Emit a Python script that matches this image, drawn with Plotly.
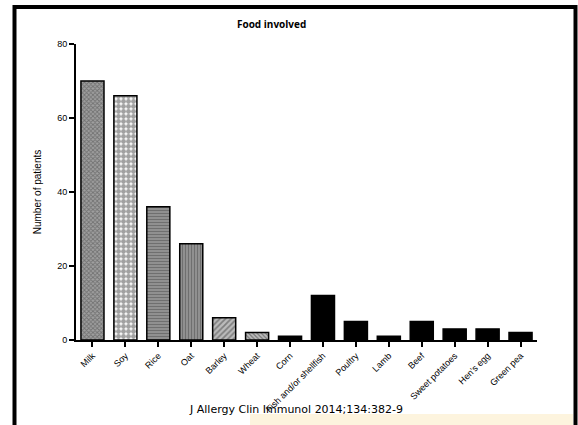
import plotly.graph_objects as go

categories = ["Milk", "Soy", "Rice", "Oat", "Barley", "Wheat", "Corn",
              "Fish and/or shellfish", "Poultry", "Lamb", "Beef",
              "Sweet potatoes", "Hen's egg", "Green pea"]
patients = [70, 66, 36, 26, 6, 2, 1, 12, 5, 1, 5, 3, 3, 2]
y_ticks = [0, 20, 40, 60, 80]

shapes_pat = ["x", ".", "-", "|", "/", "\\", "", "", "", "", "", "", "", ""]
fills = ["#a0a0a0", "white", "#9a9a9a", "#9a9a9a", "#bbbbbb", "#777777",
         "black", "black", "black", "black", "black", "black", "black", "black"]
sizes = [3, 5, 3, 3, 4, 3, 8, 8, 8, 8, 8, 8, 8, 8]
solid = [0.5, 0.75, 0.5, 0.5, 0.45, 0.6, 0.3, 0.3, 0.3, 0.3, 0.3, 0.3, 0.3, 0.3]

fig = go.Figure(go.Bar(
    x=list(range(len(categories))), y=patients, width=0.7,
    marker=dict(color=fills, line=dict(color="black", width=1.5),
                pattern=dict(shape=shapes_pat, fgcolor="black",
                             size=sizes, solidity=solid, fillmode="overlay")),
    hoverinfo="skip",
))

L, R, T, B = 76, 41, 44, 85
W, H = 578 - L - R, 425 - T - B
def px(x): return (x - L) / W
def py(y): return (425 - B - y) / H

fig.update_layout(
    width=578, height=425, margin=dict(l=L, r=R, t=T, b=B),
    paper_bgcolor="white", plot_bgcolor="white", showlegend=False,
    font=dict(family="Liberation Sans, Arial", color="black", size=9),
    xaxis=dict(tickmode="array", tickvals=list(range(len(categories))),
               ticktext=categories, tickangle=-45, range=[-0.5, 13.5],
               showline=True, linecolor="black", linewidth=2, ticks="outside",
               ticklen=5, tickwidth=1.5, tickcolor="black", showgrid=False,
               zeroline=False, tickfont=dict(size=9), automargin=False),
    yaxis=dict(range=[0, 80], tickvals=y_ticks, showline=True, linecolor="black",
               linewidth=2, ticks="outside", ticklen=5, tickwidth=1.5,
               tickcolor="black", showgrid=False, zeroline=False,
               title=dict(text="Number of patients", font=dict(size=10), standoff=14),
               tickfont=dict(size=9), automargin=False),
    shapes=[
        dict(type="rect", xref="paper", yref="paper", x0=px(14.5), x1=px(575.5),
             y0=py(445), y1=py(7), line=dict(color="black", width=4),
             fillcolor="rgba(0,0,0,0)", layer="above"),
        dict(type="rect", xref="paper", yref="paper", x0=px(250), x1=px(573),
             y0=py(425), y1=py(414), line=dict(width=0), fillcolor="#fdf1d6",
             opacity=0.8, layer="below"),
    ],
    annotations=[
        dict(text="<b>Food involved</b>", xref="paper", yref="paper",
             x=px(271), y=py(24), xanchor="center", yanchor="middle", showarrow=False,
             font=dict(size=10, family="Open Sans, Liberation Sans")),
        dict(text="J Allergy Clin Immunol 2014;134:382-9", xref="paper", yref="paper",
             x=px(187), y=py(409), xanchor="left", yanchor="middle", showarrow=False,
             font=dict(size=11, family="DejaVu Sans")),
    ],
)

fig.write_html("out.html", config={"displayModeBar": False},
               post_script="document.body.style.margin='0';")
